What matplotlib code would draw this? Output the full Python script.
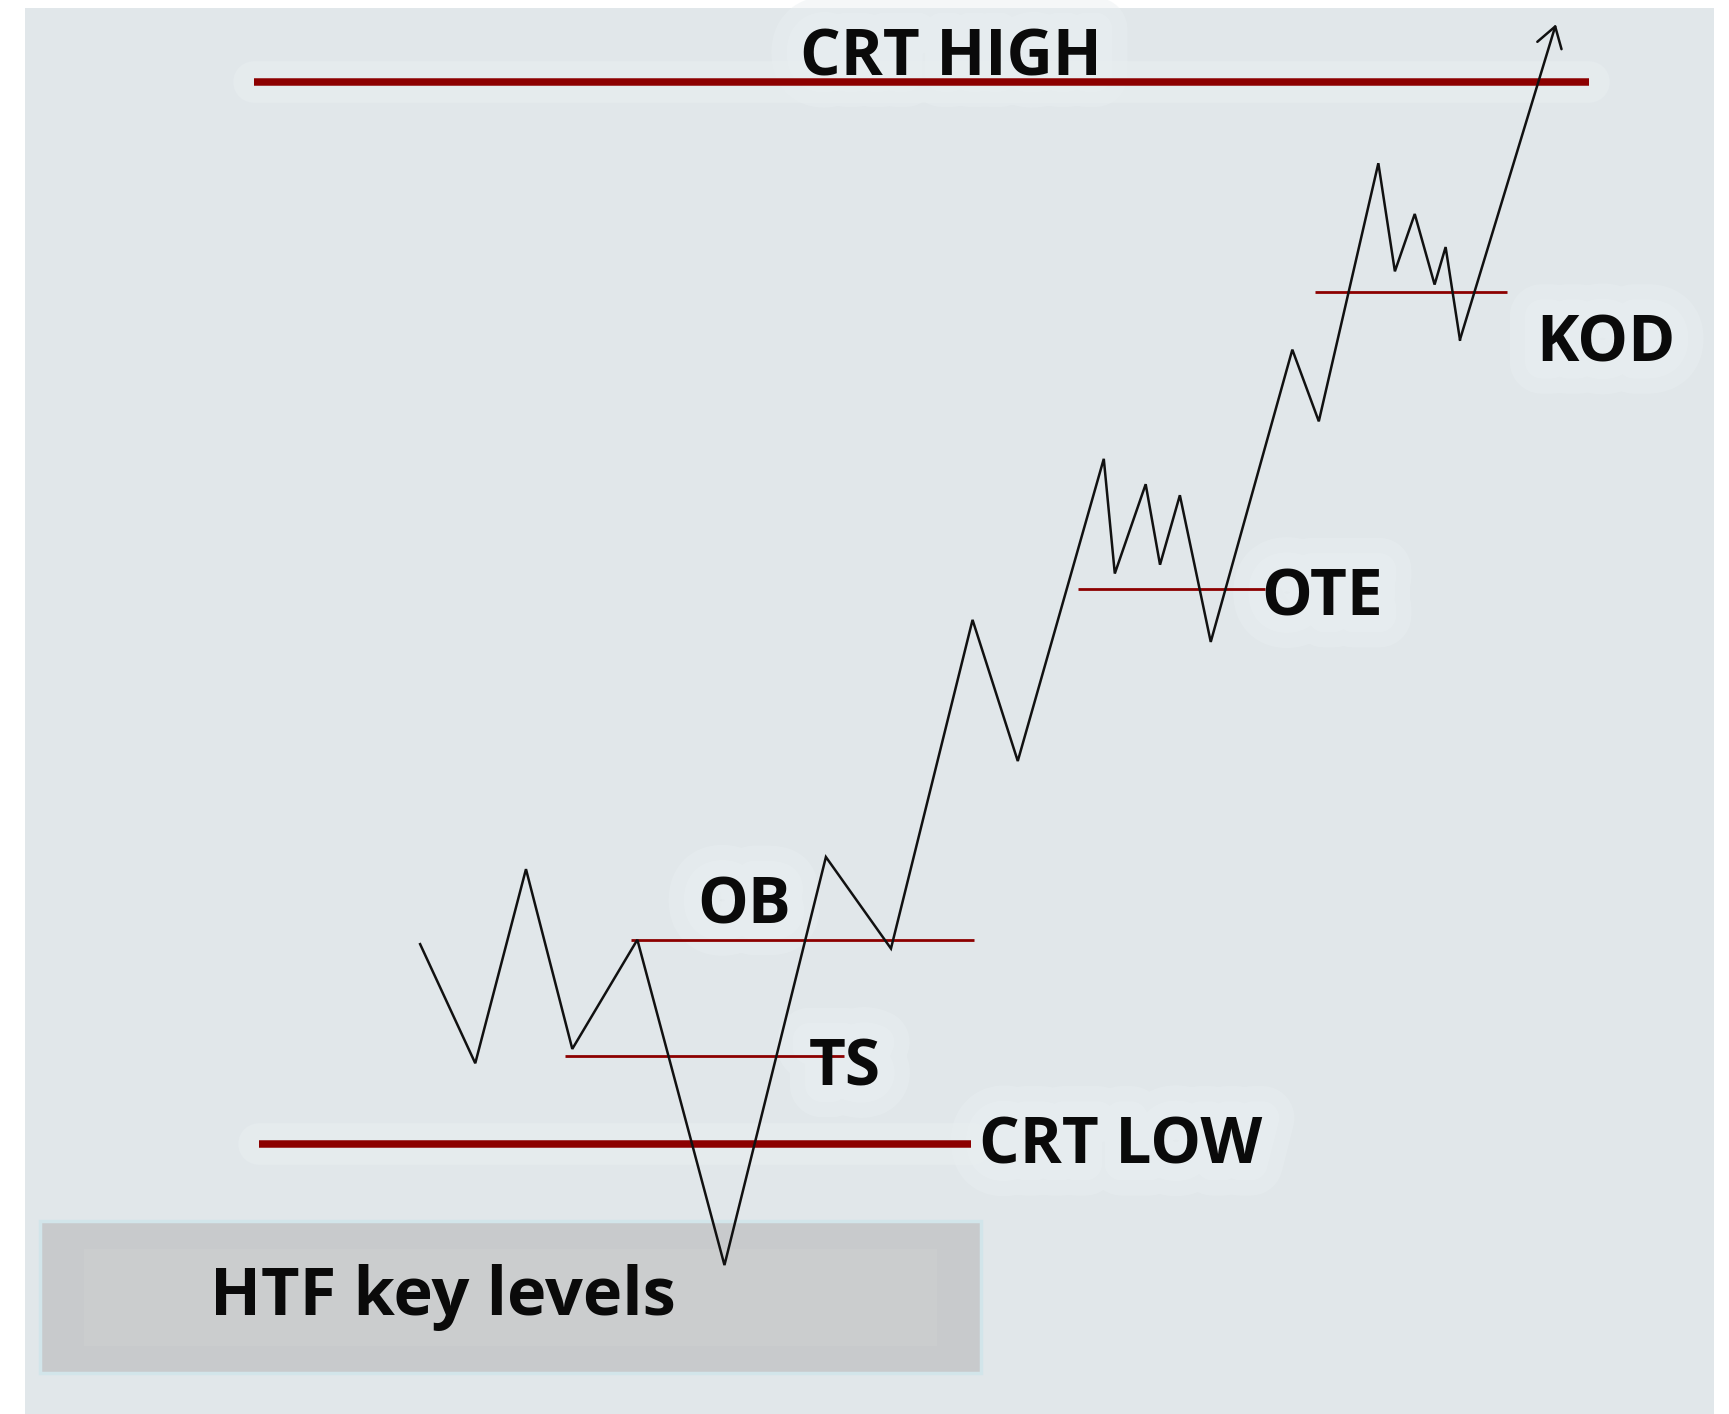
#!/usr/bin/env python3
"""CRT model sketch: price path sweeping the CRT low and running to the CRT high."""

import matplotlib

matplotlib.use("Agg")
import matplotlib.pyplot as plt
import matplotlib.patheffects as pe
from matplotlib.patches import Rectangle

# chart units follow the sketch canvas (x to the right, y downwards)
SWING_X = [381, 431, 477, 519, 578, 657, 749, 808, 882, 923, 1001, 1011,
           1039, 1052, 1070, 1098, 1172, 1196, 1250, 1265, 1283, 1301, 1311, 1324]
SWING_Y = [856, 964, 788, 951, 852, 1147, 777, 860, 562, 690, 416, 520,
           439, 512, 449, 582, 317, 382, 148, 246, 194, 258, 224, 308]
TARGET = (1411, 22)

# horizontal levels: name, y, x start, x end, heavy
LEVEL_NAMES = ["CRT HIGH", "CRT LOW", "OB", "TS", "OTE", "KOD"]
LEVEL_Y = [74, 1037, 852, 957, 534, 265]
LEVEL_X0 = [230, 235, 572, 512, 978, 1193]
LEVEL_X1 = [1441, 881, 883, 765, 1147, 1367]
LEVEL_HEAVY = [True, True, False, False, False, False]

# labels: text, x, baseline y, horizontal alignment
LABEL_TEXT = ["CRT HIGH", "CRT LOW", "OB", "TS", "OTE", "KOD"]
LABEL_X = [862, 888, 632, 733, 1144, 1393]
LABEL_Y = [68, 1055, 837, 984, 558, 328]
LABEL_HA = ["center", "left", "left", "left", "left", "left"]

ZONE_TEXT = "HTF key levels"
ZONE_BOX = (36, 1107, 854, 138)  # x, y, width, height

BG = "#e1e7ea"
GLOW = "#e9eff1"
RED = "#8c0000"
INK = "#0a0a0a"


def main() -> None:
    fig = plt.figure(figsize=(17.29, 14.14), dpi=100)
    fig.patch.set_facecolor("white")
    ax = fig.add_axes([0, 0, 1, 1])
    ax.set_xlim(0, 1568)
    ax.set_ylim(1282, 0)
    ax.axis("off")

    ax.add_patch(Rectangle((23, 7), 1531, 1280, facecolor=BG, edgecolor="none", zorder=0))

    halo = [pe.withStroke(linewidth=46, foreground=GLOW, alpha=0.45),
            pe.withStroke(linewidth=24, foreground=GLOW, alpha=0.6)]

    # HTF zone
    x, y, w, h = ZONE_BOX
    ax.add_patch(Rectangle((x, y), w, h, facecolor="#c8cacc", edgecolor="#d2e5ea",
                           linewidth=2.5, zorder=1))
    ax.add_patch(Rectangle((x + 40, y + 25), w - 80, h - 50, facecolor="#cbcdce",
                           edgecolor="none", zorder=1))
    ax.text(190, 1192, ZONE_TEXT, fontsize=48, fontweight="bold", family="Open Sans",
            color=INK, va="baseline", ha="left", zorder=5)

    # levels
    for name, ly, x0, x1, heavy in zip(LEVEL_NAMES, LEVEL_Y, LEVEL_X0, LEVEL_X1, LEVEL_HEAVY):
        if heavy:
            ax.plot([x0, x1], [ly, ly], color=GLOW, alpha=0.5, linewidth=30,
                    solid_capstyle="round", zorder=0.5)
        ax.plot([x0, x1], [ly, ly], color=RED, linewidth=5.4 if heavy else 2.0,
                solid_capstyle="butt", zorder=3)

    # price path
    ax.plot(SWING_X, SWING_Y, color="#111111", linewidth=1.8, zorder=4,
            solid_joinstyle="miter")
    ax.annotate("", xy=TARGET, xytext=(SWING_X[-1], SWING_Y[-1]),
                arrowprops=dict(arrowstyle="->, head_width=0.35, head_length=0.55",
                                color="#111111", lw=1.8, mutation_scale=26,
                                shrinkA=0, shrinkB=0), zorder=4)

    for text, tx, ty, ha in zip(LABEL_TEXT, LABEL_X, LABEL_Y, LABEL_HA):
        # soft halo drawn under the lines, then the label itself on top
        ax.text(tx, ty, text, fontsize=46, fontweight="bold", family="Open Sans",
                color=GLOW, alpha=0.0, va="baseline", ha=ha, zorder=0.6,
                path_effects=halo)
        ax.text(tx, ty, text, fontsize=46, fontweight="bold", family="Open Sans",
                color=INK, va="baseline", ha=ha, zorder=5)

    fig.savefig("out.png", dpi=100, facecolor="white")
    plt.close(fig)


if __name__ == "__main__":
    main()
